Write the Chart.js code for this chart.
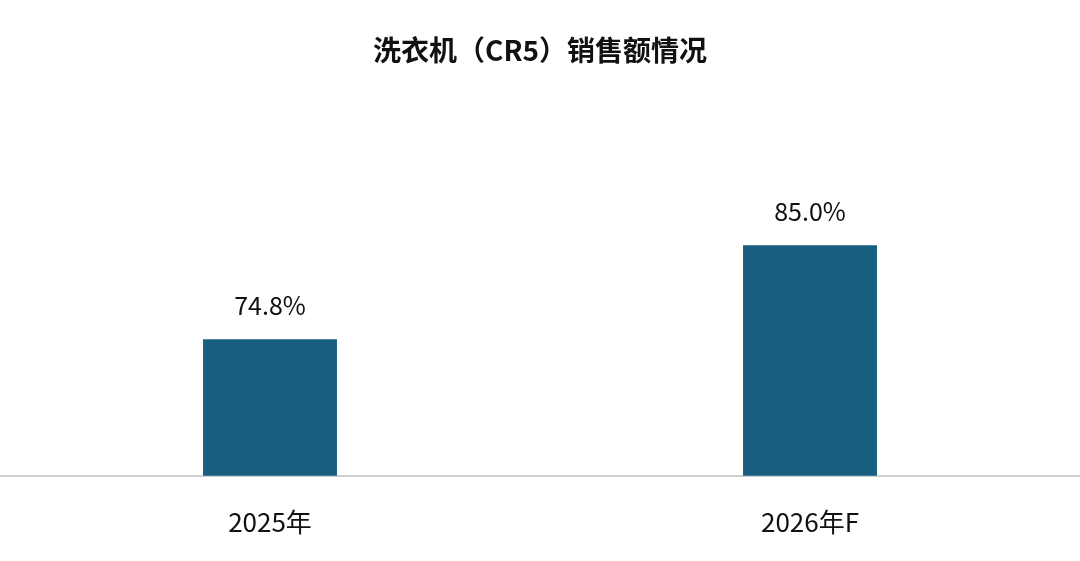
<!DOCTYPE html>
<html><head><meta charset="utf-8">
<script src="https://cdn.jsdelivr.net/npm/chart.js@4"></script>
<style>html,body{margin:0;padding:0;background:#fff}#wrap{width:1080px;height:561px}</style>
</head><body><div id="wrap"><canvas id="c"></canvas></div>
<script>
const categories = ['2025年', '2026年F'];
const shares = [74.8, 85.0];
const chartTitle = '洗衣机（CR5）销售额情况';
const font = '"Noto Sans CJK SC", "Noto Sans", sans-serif';

const labelPlugin = {
  id: 'labels',
  afterDatasetsDraw(chart) {
    const ctx = chart.ctx;
    ctx.save();
    ctx.fillStyle = '#111';
    ctx.textAlign = 'center';
    ctx.textBaseline = 'middle';
    ctx.font = '25px ' + font;
    chart.getDatasetMeta(0).data.forEach((bar, i) => {
      ctx.fillText(shares[i].toFixed(1) + '%', bar.x, bar.y - 34);
    });
    ctx.font = 'bold 28px ' + font;
    ctx.fillText(chartTitle, 540, 50);
    ctx.restore();
  }
};

new Chart(document.getElementById('c'), {
  type: 'bar',
  data: {
    labels: categories,
    datasets: [{ data: shares, backgroundColor: '#175e80', barPercentage: 0.248, categoryPercentage: 1 }]
  },
  options: {
    responsive: true,
    maintainAspectRatio: false,
    animation: false,
    layout: { padding: { top: 107, bottom: 0, left: 0, right: 0 } },
    plugins: { legend: { display: false }, tooltip: { enabled: false } },
    scales: {
      x: {
        grid: { display: false },
        border: { color: '#cfcfcf', width: 2 },
        ticks: { color: '#111', font: { size: 26, family: font }, padding: 23 }
      },
      y: { display: false, min: 60, max: 100 }
    }
  },
  plugins: [labelPlugin]
});
</script></body></html>
